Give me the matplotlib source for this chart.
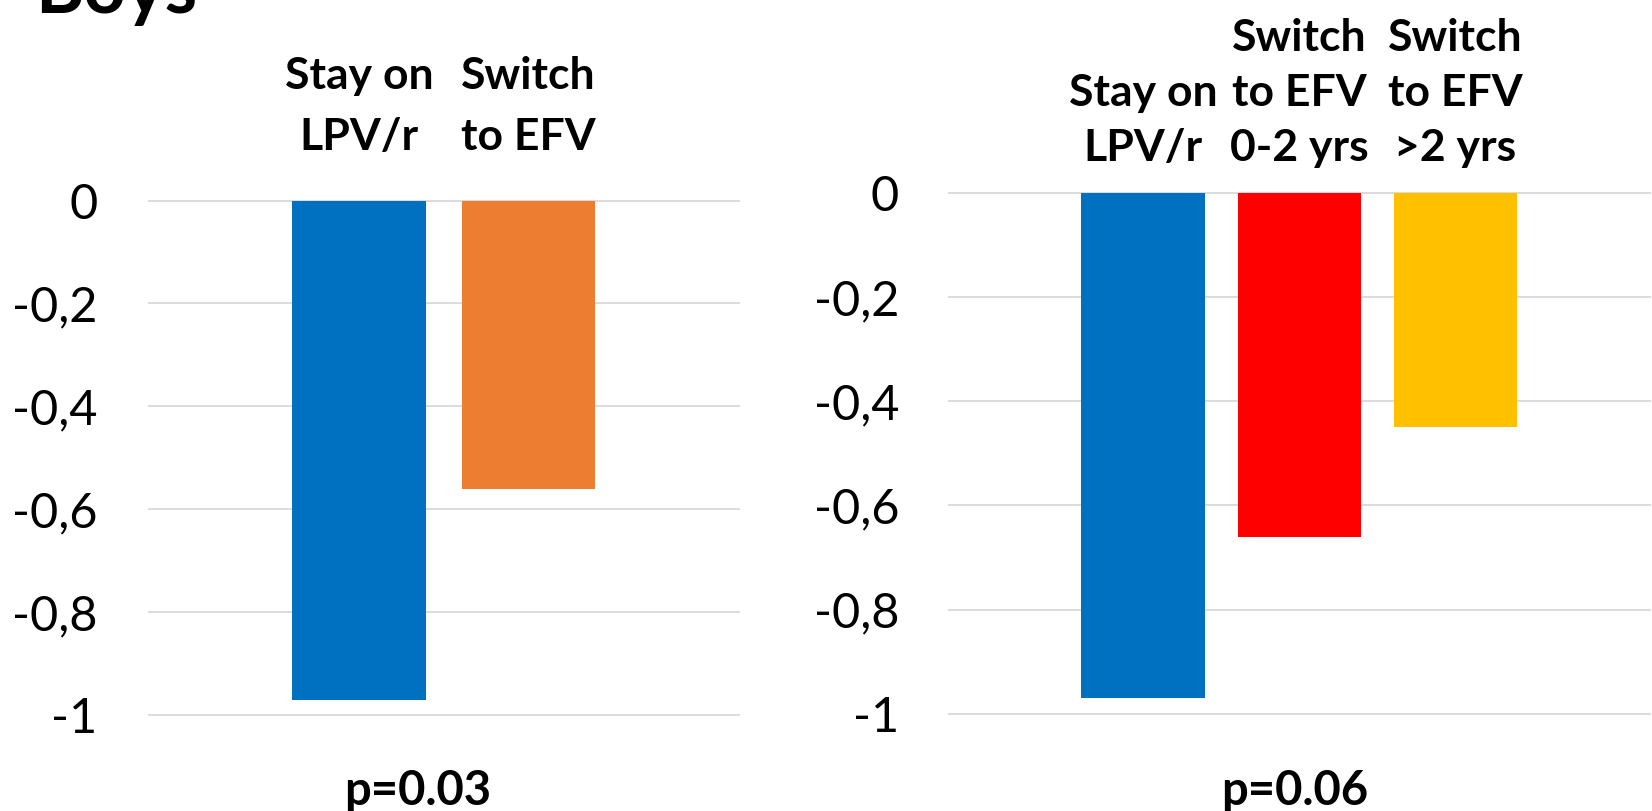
import matplotlib
matplotlib.use("Agg")
import matplotlib.pyplot as plt

# ---- data ----
title = "Boys"
left_categories = ["Stay on\nLPV/r", "Switch\nto EFV"]
left_values = [-0.97, -0.56]
left_colors = ["#0070C0", "#ED7D31"]
left_p = "p=0.03"

right_categories = ["Stay on\nLPV/r", "Switch\nto EFV\n0-2 yrs", "Switch\nto EFV\n>2 yrs"]
right_values = [-0.97, -0.66, -0.45]
right_colors = ["#0070C0", "#FF0000", "#FFC000"]
right_p = "p=0.06"

yticks = [0, -0.2, -0.4, -0.6, -0.8, -1]
ytick_labels = ["0", "-0,2", "-0,4", "-0,6", "-0,8", "-1"]

FONT = "Lato"
W, H = 1652, 811
fig = plt.figure(figsize=(W / 100, H / 100), dpi=100)


def make_axes(xlim, ylim, px_x0, px_x1, px_ytop, px_ybot):
    rect = [px_x0 / W, 1 - px_ybot / H, (px_x1 - px_x0) / W, (px_ybot - px_ytop) / H]
    ax = fig.add_axes(rect)
    ax.set_xlim(*xlim)
    ax.set_ylim(*ylim)
    return ax


def draw_panel(ax, cats, vals, colors, pad, label_offset, linespacing):
    x = list(range(len(cats)))
    ax.bar(x, vals, width=0.79, color=colors, zorder=3)
    ax.set_yticks(yticks)
    ax.set_yticklabels(ytick_labels, fontsize=35, family=FONT)
    ax.tick_params(axis="y", length=0, pad=pad)
    ax.set_xticks([])
    ax.grid(axis="y", color="#D9D9D9", linewidth=1.3, zorder=0)
    for s in ax.spines.values():
        s.set_visible(False)
    for xi, c in zip(x, cats):
        ax.annotate(c, xy=(xi, 0), xytext=(0, label_offset), textcoords="offset points",
                    ha="center", va="baseline", fontsize=32, fontweight="bold",
                    family=FONT, linespacing=linespacing, annotation_clip=False)


ylim = (-1.02, 0.02)
# left panel: 0 -> 200.5 px, -1 -> 715 px
s1 = 514.5
ax1 = make_axes((-1.25, 2.25), ylim, 147.5, 740, 200.5 - 0.02 * s1, 715 + 0.02 * s1)
draw_panel(ax1, left_categories, left_values, left_colors, pad=36,
           label_offset=36.5, linespacing=1.62)

# right panel: 0 -> 192.7 px, -1 -> 714 px
s2 = 521.3
ax2 = make_axes((-1.25, 3.25), ylim, 947.7, 1650.8, 192.7 - 0.02 * s2, 714 + 0.02 * s2)
draw_panel(ax2, right_categories, right_values, right_colors, pad=35,
           label_offset=23, linespacing=1.45)

fig.text(418 / W, 1 - 805 / H, left_p, ha="center", va="baseline",
         fontsize=34, fontweight="bold", family=FONT)
fig.text(1295 / W, 1 - 805 / H, right_p, ha="center", va="baseline",
         fontsize=34, fontweight="bold", family=FONT)
fig.text(35 / W, 1 - 13 / H, title, ha="left", va="baseline",
         fontsize=53, fontweight="bold", family=FONT)

fig.savefig("out.png", dpi=100)
